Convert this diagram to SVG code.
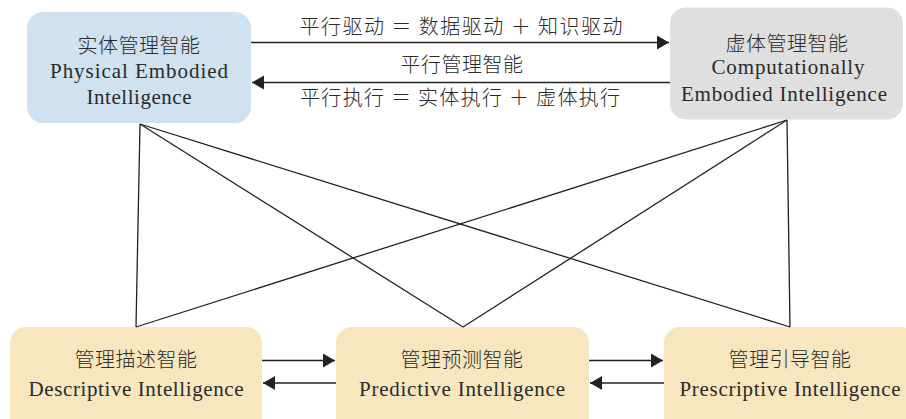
<svg xmlns="http://www.w3.org/2000/svg" width="906" height="419" viewBox="0 0 906 419">
  <style>
    .box { stroke: none; }
    .phys { fill: #d0e1f0; }
    .comp { fill: #dfdfdf; }
    .mgmt { fill: #f8e6bf; }
    .zh { font-family: "Noto Sans CJK SC", sans-serif; font-size: 20px; font-weight: 300; fill: #2a2a2a; text-anchor: middle; letter-spacing: 0.5px; }
    .en { font-family: "Liberation Serif", serif; font-size: 21px; fill: #2a2a2a; text-anchor: middle; }
    .edge { stroke: #222; stroke-width: 1.3; fill: none; }
  </style>
  <defs>
    <marker id="head" markerUnits="userSpaceOnUse" markerWidth="14" markerHeight="16" refX="12" refY="7" orient="auto">
      <path d="M0,0 L12,7 L0,14 Z" fill="#222"/>
    </marker>
  </defs>

  <!-- nodes -->
  <g id="physical">
    <rect class="box phys" x="27" y="12" width="224" height="111" rx="16"/>
    <text class="zh" x="139" y="53">实体管理智能</text>
    <text class="en" x="139" y="77.5" textLength="178" lengthAdjust="spacing">Physical Embodied</text>
    <text class="en" x="139" y="104" textLength="105" lengthAdjust="spacing">Intelligence</text>
  </g>
  <g id="computational">
    <rect class="box comp" x="670" y="7.5" width="233" height="112" rx="16"/>
    <text class="zh" x="787" y="50.5">虚体管理智能</text>
    <text class="en" x="788" y="74" textLength="153" lengthAdjust="spacing">Computationally</text>
    <text class="en" x="784" y="100.5" textLength="206" lengthAdjust="spacing">Embodied Intelligence</text>
  </g>
  <g id="descriptive">
    <rect class="box mgmt" x="10" y="327" width="252" height="110" rx="16"/>
    <text class="zh" x="136" y="367">管理描述智能</text>
    <text class="en" x="136" y="396" textLength="215" lengthAdjust="spacing">Descriptive Intelligence</text>
  </g>
  <g id="predictive">
    <rect class="box mgmt" x="336" y="327" width="253" height="110" rx="16"/>
    <text class="zh" x="462" y="367">管理预测智能</text>
    <text class="en" x="462" y="396" textLength="206" lengthAdjust="spacing">Predictive Intelligence</text>
  </g>
  <g id="prescriptive">
    <rect class="box mgmt" x="664" y="327" width="252" height="110" rx="16"/>
    <text class="zh" x="790" y="367">管理引导智能</text>
    <text class="en" x="790" y="396" textLength="221" lengthAdjust="spacing">Prescriptive Intelligence</text>
  </g>

  <!-- connectors -->
  <g id="connectors">
    <line class="edge" x1="251" y1="42.5" x2="669" y2="42.5" marker-end="url(#head)"/>
    <line class="edge" x1="670" y1="82.5" x2="252" y2="82.5" marker-end="url(#head)"/>
    <text class="zh" x="461" y="33.5" textLength="323" lengthAdjust="spacing" style="letter-spacing:0">平行驱动 ＝ 数据驱动 ＋ 知识驱动</text>
    <text class="zh" x="462" y="71.5">平行管理智能</text>
    <text class="zh" x="460" y="105" textLength="320" lengthAdjust="spacing" style="letter-spacing:0">平行执行 ＝ 实体执行 ＋ 虚体执行</text>

    <line class="edge" x1="140" y1="124" x2="136" y2="327"/>
    <line class="edge" x1="140" y1="124" x2="463" y2="327"/>
    <line class="edge" x1="140" y1="124" x2="790" y2="327"/>
    <line class="edge" x1="787" y1="120" x2="136" y2="327"/>
    <line class="edge" x1="787" y1="120" x2="463" y2="327"/>
    <line class="edge" x1="787" y1="120" x2="790" y2="327"/>

    <line class="edge" x1="262" y1="360.5" x2="335" y2="360.5" marker-end="url(#head)"/>
    <line class="edge" x1="336" y1="383" x2="263" y2="383" marker-end="url(#head)"/>
    <line class="edge" x1="589" y1="360.5" x2="663" y2="360.5" marker-end="url(#head)"/>
    <line class="edge" x1="664" y1="383" x2="590" y2="383" marker-end="url(#head)"/>
  </g>
</svg>
